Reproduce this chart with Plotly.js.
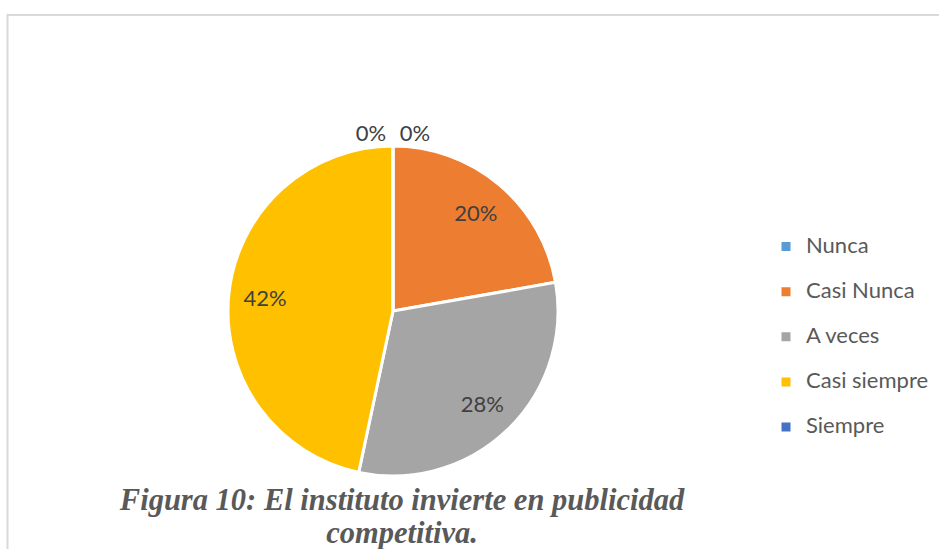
<!DOCTYPE html>
<html>
<head>
<meta charset="utf-8">
<script src="https://cdn.plot.ly/plotly-3.0.1.min.js"></script>
<style>html,body{margin:0;padding:0;background:#fff;}#chart{width:939px;height:549px;}</style>
</head>
<body>
<div id="chart"></div>
<script>
const categories = ["Nunca", "Casi Nunca", "A veces", "Casi siempre", "Siempre"];
const values = [0, 20, 28, 42, 0];
const pctLabels = ["0%", "20%", "28%", "42%", "0%"];
const colors = ["#5B9BD5", "#ED7D31", "#A5A5A5", "#FFC000", "#4472C4"];
const titleLines = ["Figura 10: El instituto invierte en publicidad", "competitiva."];

const W = 939, H = 549;
const cx = 393, cy = 311, R = 165;

const legendLabels = categories.map(c => '<span style="font-size:22px">' + c + '&nbsp;</span><br>&nbsp;');
const domain = {
  x: [(cx - R) / W, (cx + R) / W],
  y: [(H - cy - R) / H, (H - cy + R) / H]
};
const lblFont = { family: "Lato, sans-serif", size: 22, color: "#404040" };

// colored pie (legend source)
const pieTrace = {
  type: "pie",
  labels: legendLabels,
  values: values,
  textinfo: "none",
  sort: false,
  direction: "clockwise",
  rotation: 0,
  marker: { colors: colors, line: { color: "#ffffff", width: 3 } },
  domain: domain,
  hoverinfo: "none"
};

// transparent ring carrying the data labels
const labelTrace = {
  type: "pie",
  labels: legendLabels,
  values: values,
  text: pctLabels,
  textinfo: "text",
  texttemplate: "%{text}",
  textposition: values.map(v => v === 0 ? "outside" : "inside"),
  insidetextorientation: "horizontal",
  hole: 0.56,
  sort: false,
  direction: "clockwise",
  rotation: 0,
  showlegend: false,
  marker: { colors: values.map(() => "rgba(0,0,0,0)"), line: { width: 0 } },
  textfont: lblFont, insidetextfont: lblFont, outsidetextfont: lblFont,
  domain: domain,
  hoverinfo: "none"
};

const layout = {
  width: W, height: H,
  margin: { l: 0, r: 0, t: 0, b: 0 },
  paper_bgcolor: "#ffffff",
  showlegend: true,
  legend: {
    x: 1, xanchor: "right",
    y: 1 - 229.5 / H, yanchor: "top",
    valign: "top",
    font: { family: "Lato, sans-serif", size: 16.2, color: "#595959" },
    bgcolor: "rgba(0,0,0,0)"
  },
  title: {
    text: titleLines.map(t => '<span style="font-size:30.5px">' + t + '</span>').join("<br>"),
    font: { family: "Liberation Serif, serif", size: 25.4, color: "#595959", weight: "bold", style: "italic" },
    xref: "paper", x: 402 / W, xanchor: "center",
    yref: "container", y: 1 - 510 / H, yanchor: "top"
  },
  shapes: [{
    type: "rect", xref: "paper", yref: "paper",
    x0: 7.5 / W, x1: 1.05, y0: -0.1, y1: 1 - 15 / H,
    line: { color: "#d9d9d9", width: 2 }, fillcolor: "rgba(0,0,0,0)", layer: "below"
  }]
};

Plotly.newPlot("chart", [pieTrace, labelTrace], layout, { displayModeBar: false, staticPlot: true });
</script>
</body>
</html>
